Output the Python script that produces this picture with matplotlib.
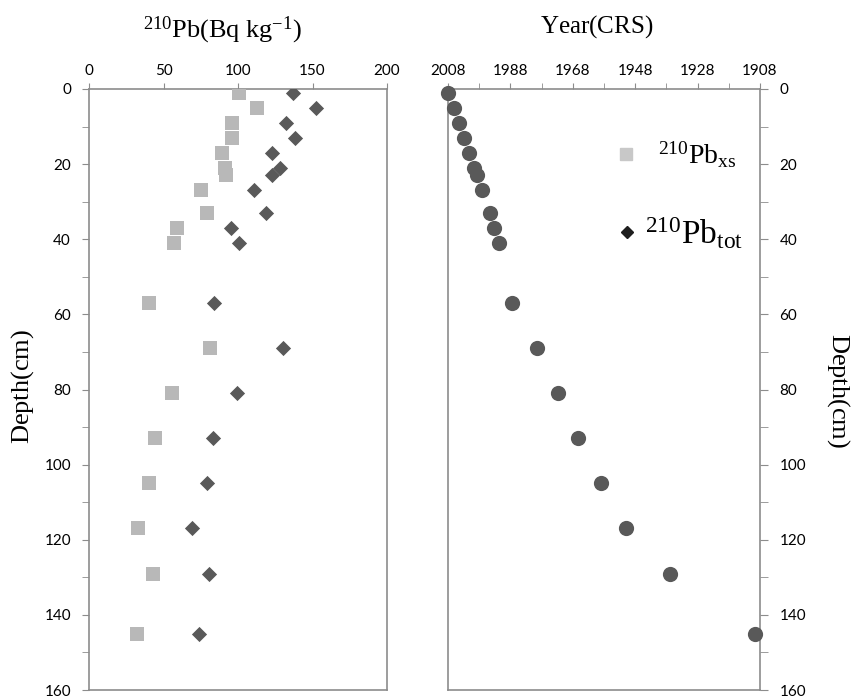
import matplotlib
matplotlib.use('Agg')
import matplotlib.pyplot as plt
from matplotlib.ticker import MultipleLocator, FixedLocator
from matplotlib.lines import Line2D

# depth of each sample (cm)
depth = [1, 5, 9, 13, 17, 21, 23, 27, 33, 37, 41, 57, 69, 81, 93, 105, 117, 129, 145]
# 210Pb excess and total activity (Bq/kg)
pb_xs = [101, 113, 96, 96, 89, 91, 92, 75, 79, 59, 57, 40, 81, 56, 44, 40, 33, 43, 32.5]
pb_tot = [137, 152.5, 132, 138, 123, 128, 123, 111, 118.5, 95, 101, 84, 130, 99, 83, 79.5, 69, 80.5, 74]
# CRS age
year = [2008, 2006.2, 2004.5, 2002.9, 2001.2, 1999.6, 1998.6, 1997.1, 1994.6, 1993.1, 1991.7,
        1987.4, 1979.6, 1972.9, 1966.2, 1959.1, 1951.0, 1936.7, 1909.6]

plt.rcParams['font.family'] = ['Lato', 'DejaVu Sans']
plt.rcParams['mathtext.fontset'] = 'custom'
plt.rcParams['mathtext.rm'] = 'Liberation Serif'
plt.rcParams['mathtext.it'] = 'Liberation Serif:italic'

spine_c = '#8c8c8c'
dark = '#595959'
light = '#b8b8b8'

fig = plt.figure(figsize=(8.57, 6.97), dpi=100)
ax1 = fig.add_axes([89/857, 1 - 690/697, 298/857, 601/697])
ax2 = fig.add_axes([448/857, 1 - 690/697, 312/857, 601/697])

ax1.scatter(pb_xs, depth, marker='s', s=105, color=light, linewidths=0, zorder=3)
ax1.scatter(pb_tot, depth, marker='D', s=60, color=dark, linewidths=0, zorder=3)
ax2.scatter(year, depth, marker='o', s=120, color=dark, linewidths=0, zorder=3, clip_on=False)

ax1.set_xlim(0, 200)
ax1.set_ylim(160, 0)
ax1.xaxis.tick_top()
ax1.xaxis.set_major_locator(MultipleLocator(50))
ax1.yaxis.set_major_locator(MultipleLocator(20))
ax1.yaxis.set_minor_locator(MultipleLocator(10))
ax1.tick_params(axis='x', which='both', direction='out', length=4, color=spine_c, pad=4, labelsize=11)
ax1.tick_params(axis='y', which='both', direction='out', length=5, color=spine_c, pad=8, labelsize=11)

ax2.set_xlim(2008, 1908)
ax2.set_ylim(160, 0)
ax2.xaxis.tick_top()
ax2.xaxis.set_major_locator(FixedLocator([2008, 1988, 1968, 1948, 1928, 1908]))
ax2.xaxis.set_minor_locator(FixedLocator([1998, 1978, 1958, 1938, 1918]))
ax2.yaxis.tick_right()
ax2.yaxis.set_major_locator(MultipleLocator(20))
ax2.yaxis.set_minor_locator(MultipleLocator(10))
ax2.tick_params(axis='x', which='both', direction='out', length=4, color=spine_c, pad=4, labelsize=11)
ax2.tick_params(axis='y', which='both', direction='out', length=6, color=spine_c, pad=8, labelsize=11)

for ax in (ax1, ax2):
    for sp in ax.spines.values():
        sp.set_color(spine_c)
        sp.set_linewidth(1.2)

fig.text(222/857, 1 - 30/697, r'$^{210}\mathrm{Pb(Bq\ kg^{-1})}$', fontsize=19,
         ha='center', va='center')
fig.text(597/857, 1 - 27/697, r'$\mathrm{Year(CRS)}$', fontsize=18, ha='center', va='center')
fig.text(23/857, 1 - 386/697, r'$\mathrm{Depth(cm)}$', fontsize=19, rotation=90,
         ha='center', va='center')
fig.text(838/857, 1 - 391/697, r'$\mathrm{Depth(cm)}$', fontsize=19, rotation=-90,
         ha='center', va='center')

# legend: two separate boxes so each entry can sit where it does in the figure
h_xs = Line2D([], [], ls='none', marker='s', ms=8, color='#c8c8c8')
h_tot = Line2D([], [], ls='none', marker='D', ms=6.5, color='#1e1e1e')
leg1 = ax2.legend([h_xs], [r'$^{210}\mathrm{Pb_{xs}}$'], loc='center left',
                  bbox_to_anchor=(0.49, 0.89), frameon=False, fontsize=20,
                  borderpad=0, handlelength=0.8, handletextpad=0.75)
ax2.add_artist(leg1)
leg2 = ax2.legend([h_tot], [r'$^{210}\mathrm{Pb_{tot}}$'], loc='center left',
                  bbox_to_anchor=(0.488, 0.76), frameon=False, fontsize=24,
                  borderpad=0, handlelength=0.6, handletextpad=0.24)

fig.savefig('out.png', dpi=100)
